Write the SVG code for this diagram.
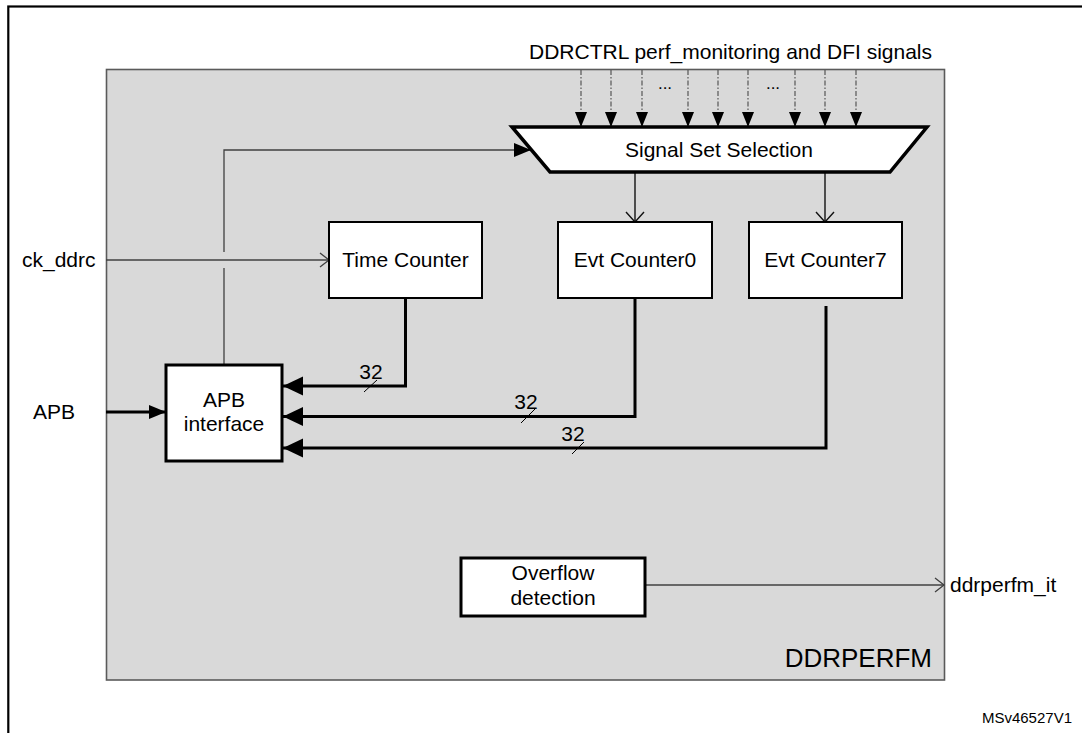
<svg xmlns="http://www.w3.org/2000/svg" width="1082" height="733" viewBox="0 0 1082 733">
<defs>
<style>
text{font-family:"Liberation Sans",Arial,sans-serif;fill:#000}
.lbl{font-size:21px}
.c{text-anchor:middle}
.box{fill:#fff;stroke:#000;stroke-width:2}
.tbox{fill:#fff;stroke:#000;stroke-width:3}
.thin{fill:none;stroke:#404040;stroke-width:1.3}
.dark{fill:none;stroke:#111;stroke-width:1.4}
.bus{fill:none;stroke:#000;stroke-width:3}
.sig{fill:none;stroke:#555;stroke-width:1.2;stroke-dasharray:5 2 1.5 2}
.slash{stroke:#000;stroke-width:1}
</style>
<marker id="open" markerWidth="12" markerHeight="16" refX="10" refY="8" orient="auto" markerUnits="userSpaceOnUse">
<path d="M1,1 L10,8 L1,15" fill="none" stroke="#404040" stroke-width="1.3"/>
</marker>
<marker id="openDark" markerWidth="12" markerHeight="20" refX="11" refY="10" orient="auto" markerUnits="userSpaceOnUse">
<path d="M1,1 L11,10 L1,19" fill="none" stroke="#111" stroke-width="1.4"/>
</marker>
<marker id="filled" markerWidth="18" markerHeight="16" refX="17" refY="7" orient="auto" markerUnits="userSpaceOnUse">
<path d="M0,0 L17,7 L0,14 Z" fill="#000"/>
</marker>
<marker id="bushead" markerWidth="22" markerHeight="20" refX="20" refY="9.5" orient="auto" markerUnits="userSpaceOnUse">
<path d="M0,0 L20,9.5 L0,19 Z" fill="#000"/>
</marker>
<marker id="sighead" markerWidth="14" markerHeight="16" refX="15" refY="6" orient="auto" markerUnits="userSpaceOnUse">
<path d="M0,0 L15,6 L0,12 Z" fill="#000"/>
</marker>
</defs>

<rect x="8.3" y="6.5" width="1090" height="740" fill="#fff" stroke="#000" stroke-width="2.2"/>

<g id="ddrperfm">
<rect x="106.5" y="69.5" width="838" height="610.5" fill="#d9d9d9" stroke="#5a5a5a" stroke-width="1.6"/>
<text x="932" y="667" font-size="26" text-anchor="end">DDRPERFM</text>
</g>

<text class="lbl" x="529" y="59">DDRCTRL perf_monitoring and DFI signals</text>
<text x="665" y="89" font-size="17" class="c">...</text>
<text x="773" y="89" font-size="17" class="c">...</text>

<g id="connectors">
<line class="sig" x1="581" y1="70" x2="581" y2="127" marker-end="url(#sighead)"/>
<line class="sig" x1="611" y1="70" x2="611" y2="127" marker-end="url(#sighead)"/>
<line class="sig" x1="642" y1="70" x2="642" y2="127" marker-end="url(#sighead)"/>
<line class="sig" x1="688" y1="70" x2="688" y2="127" marker-end="url(#sighead)"/>
<line class="sig" x1="718" y1="70" x2="718" y2="127" marker-end="url(#sighead)"/>
<line class="sig" x1="748" y1="70" x2="748" y2="127" marker-end="url(#sighead)"/>
<line class="sig" x1="795" y1="70" x2="795" y2="127" marker-end="url(#sighead)"/>
<line class="sig" x1="825" y1="70" x2="825" y2="127" marker-end="url(#sighead)"/>
<line class="sig" x1="856" y1="70" x2="856" y2="127" marker-end="url(#sighead)"/>

<path class="thin" d="M224,365 V268"/>
<path class="thin" d="M224,252 V150 H531" marker-end="url(#filled)"/>
<line class="thin" x1="106" y1="260" x2="329" y2="260" marker-end="url(#open)"/>
<line class="dark" x1="635" y1="172" x2="635" y2="222" marker-end="url(#openDark)"/>
<line class="dark" x1="825" y1="172" x2="825" y2="222" marker-end="url(#openDark)"/>

<line class="bus" x1="106" y1="412" x2="166" y2="412" marker-end="url(#filled)"/>

<path class="bus" d="M405.5,298 V386 H283" marker-end="url(#bushead)"/>
<path class="bus" d="M635,298 V416.5 H283" marker-end="url(#bushead)"/>
<path class="bus" d="M826,306 V448 H283" marker-end="url(#bushead)"/>

<line class="slash" x1="364" y1="392" x2="377" y2="380"/>
<line class="slash" x1="521" y1="423" x2="535" y2="409"/>
<line class="slash" x1="572" y1="454" x2="584" y2="442"/>

<line class="thin" x1="645" y1="585" x2="944" y2="585" marker-end="url(#open)"/>
</g>

<text class="lbl c" x="371" y="379">32</text>
<text class="lbl c" x="526" y="409">32</text>
<text class="lbl c" x="573" y="441">32</text>

<text class="lbl" x="22" y="267">ck_ddrc</text>
<text class="lbl" x="33" y="419">APB</text>
<text class="lbl" x="950" y="592">ddrperfm_it</text>
<text x="1072" y="723" font-size="15" text-anchor="end">MSv46527V1</text>

<g id="signal-set-selection">
<polygon points="512,127 927,127 890,172 550,172" fill="#fff" stroke="#000" stroke-width="3.5" stroke-linejoin="miter"/>
<text class="lbl c" x="719" y="157">Signal Set Selection</text>
</g>

<g id="time-counter">
<rect class="box" x="329" y="222" width="153" height="76"/>
<text class="lbl c" x="405.5" y="267">Time Counter</text>
</g>

<g id="evt-counter0">
<rect class="box" x="558" y="222" width="154" height="76"/>
<text class="lbl c" x="635" y="267">Evt Counter0</text>
</g>

<g id="evt-counter7">
<rect class="box" x="749" y="222" width="153" height="76"/>
<text class="lbl c" x="825.5" y="267">Evt Counter7</text>
</g>

<g id="apb-interface">
<rect class="tbox" x="166" y="365" width="116" height="96"/>
<text class="lbl c" x="224" y="407">APB</text>
<text class="lbl c" x="224" y="431">interface</text>
</g>

<g id="overflow-detection">
<rect class="tbox" x="461" y="558" width="184" height="58"/>
<text class="lbl c" x="553" y="580">Overflow</text>
<text class="lbl c" x="553" y="605">detection</text>
</g>
</svg>
